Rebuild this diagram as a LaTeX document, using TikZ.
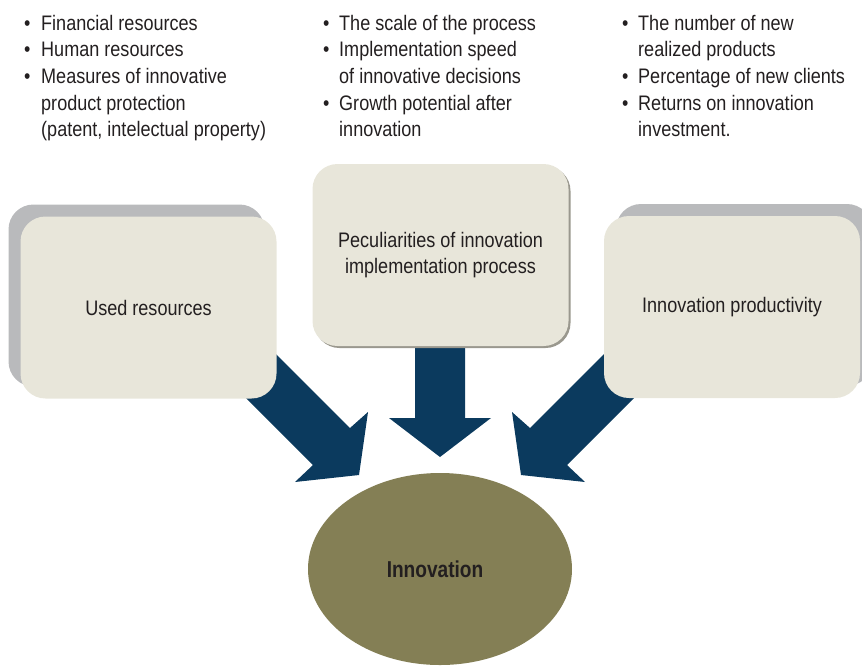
\documentclass[tikz,border=0pt]{standalone}
\usepackage{fontspec}
\setmainfont{Liberation Sans}[FakeStretch=0.86]
\usetikzlibrary{shapes.geometric,shadows}
\definecolor{txt}{HTML}{231F20}
\definecolor{boxfill}{HTML}{E8E6DA}
\definecolor{shadowgray}{HTML}{B9BABC}
\definecolor{darkshadow}{HTML}{9A988E}
\definecolor{arrowblue}{HTML}{0B3A5E}
\definecolor{olive}{HTML}{847F55}
\pgfdeclarelayer{bg}
\pgfsetlayers{bg,main}
\begin{document}
\begin{tikzpicture}[x=1pt,y=-1pt,
  every node/.style={text=txt},
  col/.style={anchor=base west, inner sep=0pt, font=\fontsize{21}{26.7}\selectfont},
  factorbox/.style={rounded corners=25pt, fill=boxfill, minimum width=256pt, minimum height=182pt,
    inner sep=0pt, align=center, font=\fontsize{21}{26}\selectfont},
  bigarrow/.style={fill=arrowblue, draw=none}]
\useasboundingbox (0,0) rectangle (862,665);

% bullet columns
\node[col] (c1) at (24,30) {\begin{tabular}[t]{@{}l@{}l@{}}
\makebox[17pt][l]{•}&Financial resources\\
\makebox[17pt][l]{•}&Human resources\\
\makebox[17pt][l]{•}&Measures of innovative\\
&product protection\\
&(patent, intelectual property)
\end{tabular}};
\node[col] (c2) at (323,30) {\begin{tabular}[t]{@{}l@{}l@{}}
\makebox[16pt][l]{•}&The scale of the process\\
\makebox[16pt][l]{•}&Implementation speed\\
&of innovative decisions\\
\makebox[16pt][l]{•}&Growth potential after\\
&innovation
\end{tabular}};
\node[col] (c3) at (622,30) {\begin{tabular}[t]{@{}l@{}l@{}}
\makebox[16pt][l]{•}&The number of new\\
&realized products\\
\makebox[16pt][l]{•}&Percentage of new clients\\
\makebox[16pt][l]{•}&Returns on innovation\\
&investment.
\end{tabular}};

% boxes
\node[factorbox, general shadow={fill=shadowgray, shadow xshift=-12pt, shadow yshift=12pt}]
  (used) at (148.5,307.5) {Used resources};
\node[factorbox, general shadow={fill=darkshadow, shadow xshift=2pt, shadow yshift=-2pt}]
  (pecul) at (440.5,255) {Peculiarities of innovation\\implementation process};
\node[factorbox, general shadow={fill=shadowgray, shadow xshift=12pt, shadow yshift=12pt}]
  (prod) at (732,307) {Innovation productivity};

% ellipse
\node[ellipse, fill=olive, minimum width=264pt, minimum height=192pt, inner sep=0pt,
  font=\fontsize{23}{26}\selectfont\bfseries\addfontfeatures{FakeStretch=0.83}] (innov) at (440,569) {\kern-10pt Innovation};

% block arrows behind the boxes
\begin{pgfonlayer}{bg}
\fill[bigarrow] (261,339) -- (350,428) -- (368,412) -- (359,475) -- (295,482) -- (313,465) -- (224,376) -- cycle;
\fill[bigarrow] (415,330) -- (465,330) -- (465,418) -- (491,418) -- (440,457) -- (389,418) -- (415,418) -- cycle;
\fill[bigarrow] (619,339) -- (530,428) -- (512,412) -- (521,475) -- (585,482) -- (567,465) -- (656,376) -- cycle;
\end{pgfonlayer}
\end{tikzpicture}
\end{document}
